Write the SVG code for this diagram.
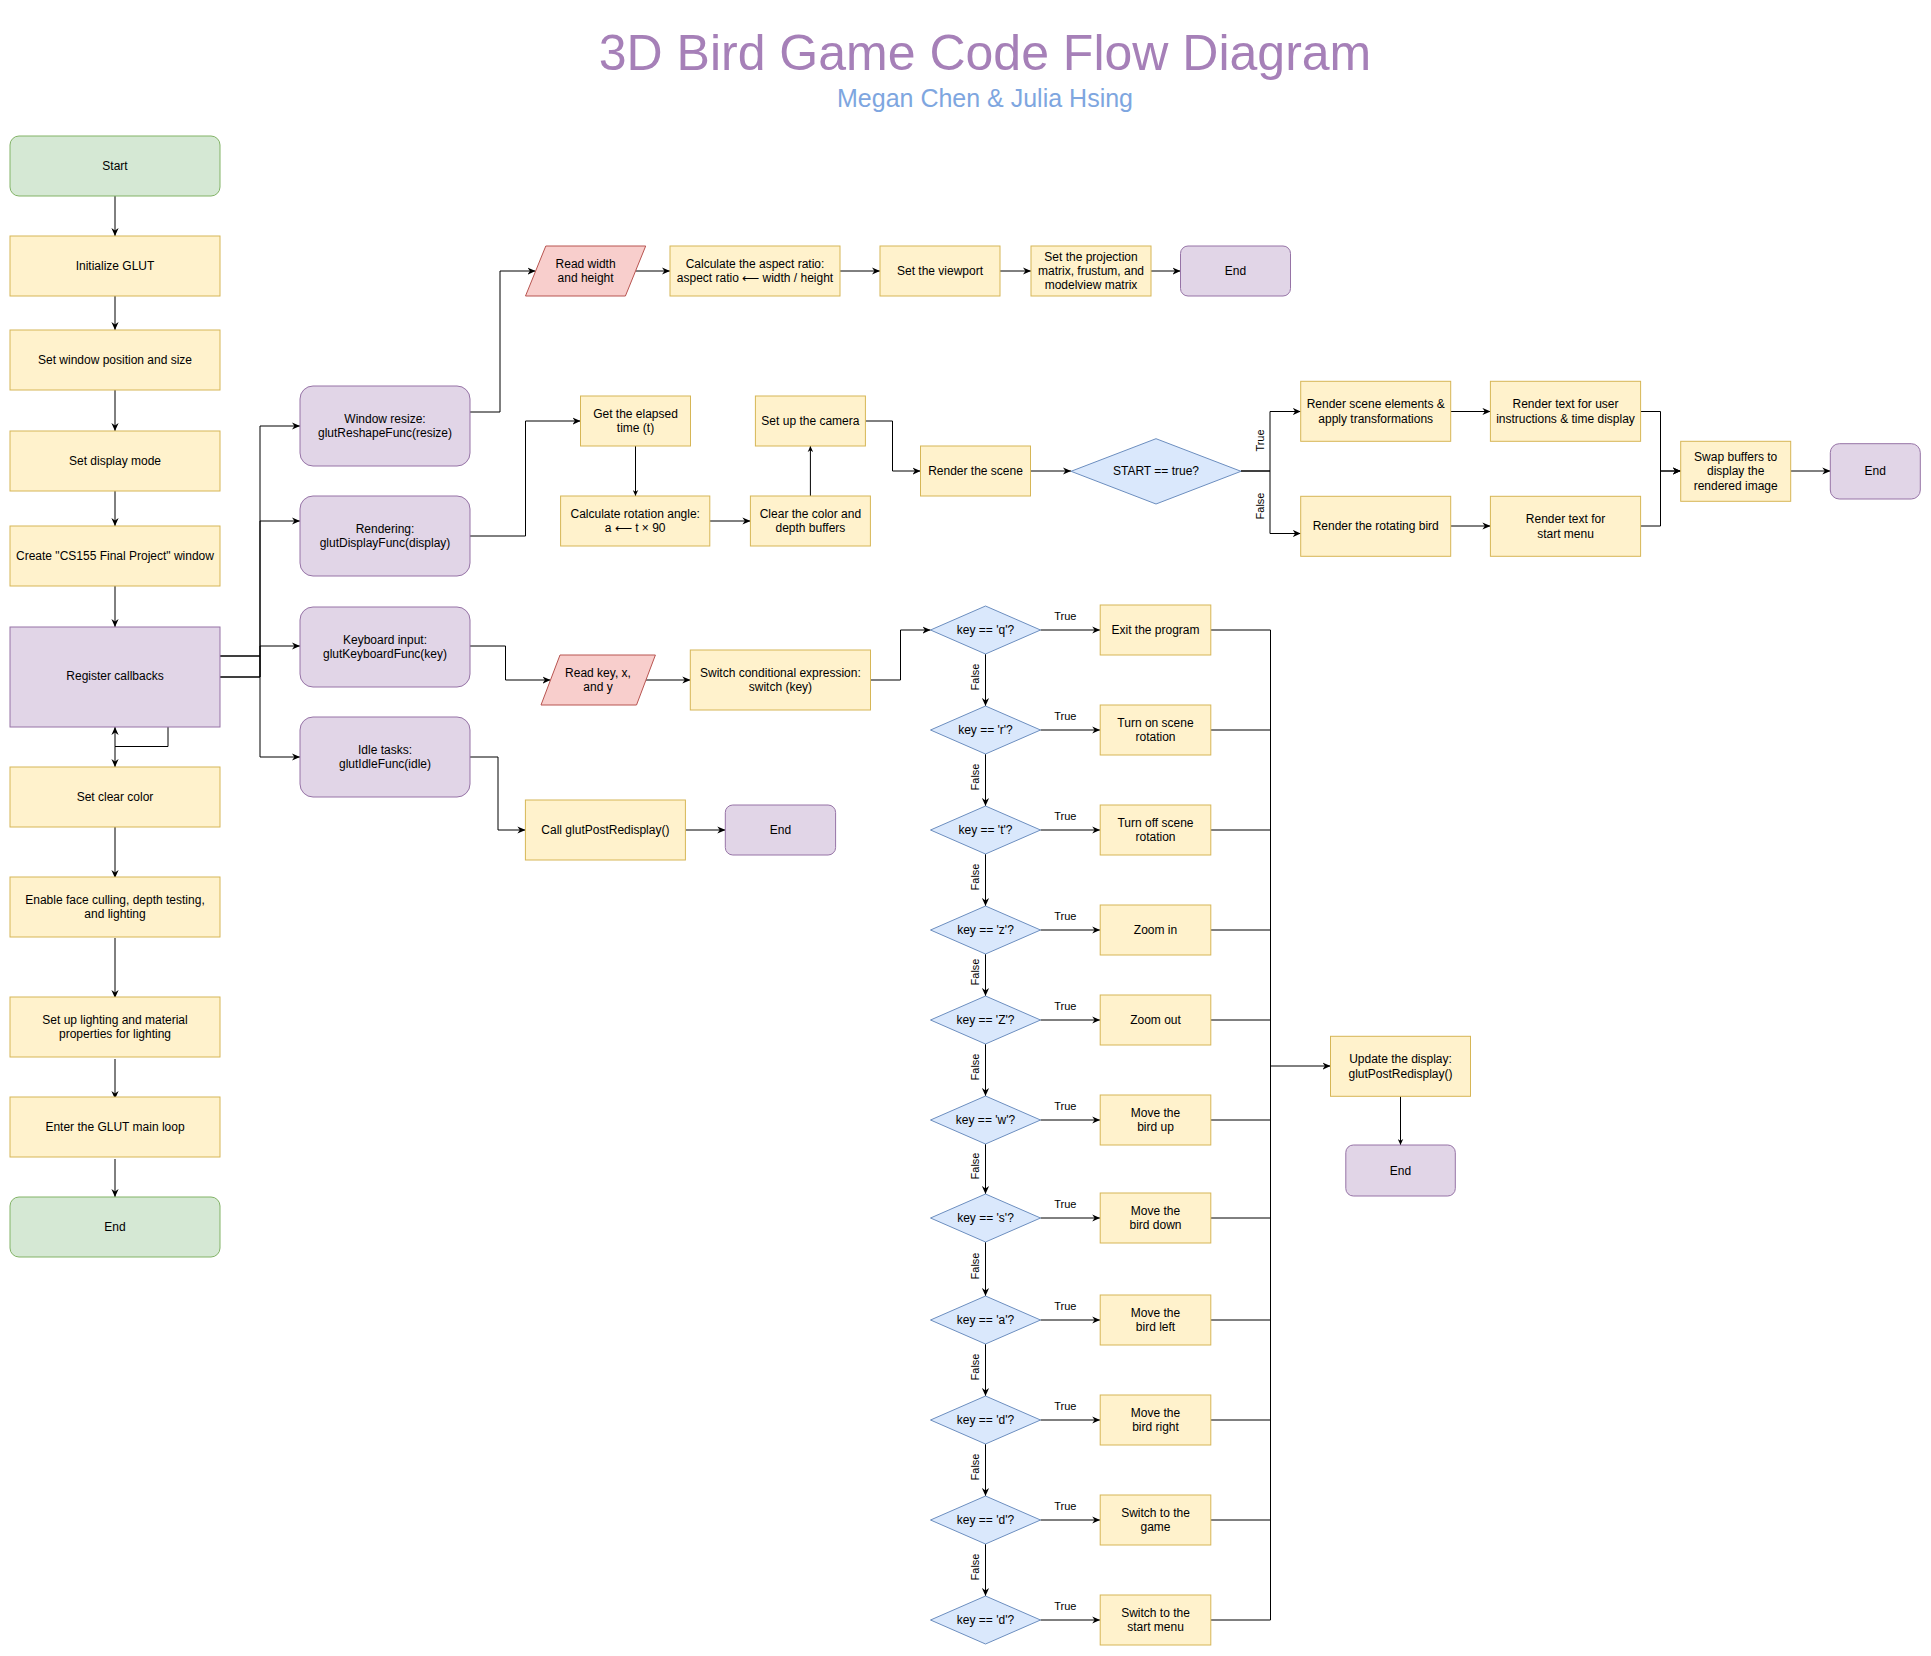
<svg xmlns="http://www.w3.org/2000/svg" width="1931" height="1656" viewBox="0 0 1931 1656">
<defs>
<style>
text{font-family:"Liberation Sans",Arial,Helvetica,sans-serif;font-size:12px;text-anchor:middle;fill:#000}
.g{fill:#d5e8d4;stroke:#82b366;stroke-width:1}
.y{fill:#fff2cc;stroke:#d6b656;stroke-width:1}
.p{fill:#e1d5e7;stroke:#9673a6;stroke-width:1}
.r{fill:#f8cecc;stroke:#b85450;stroke-width:1}
.b{fill:#dae8fc;stroke:#6c8ebf;stroke-width:1}
.e{fill:none;stroke:#000;stroke-width:1}
.ea{fill:none;stroke:#000;stroke-width:1;marker-end:url(#a)}
.es{fill:none;stroke:#000;stroke-width:1;marker-end:url(#s)}
.l{font-size:11px}
.title{font-size:50px;fill:#a680b8}
.sub{font-size:25px;fill:#7ea6e0}
</style>
<marker id="a" viewBox="0 0 10 10" refX="10" refY="5" markerWidth="8" markerHeight="8" markerUnits="userSpaceOnUse" orient="auto"><path d="M0,0.5 L10,5 L0,9.5 L3,5 z" fill="#000"/></marker>
<marker id="s" viewBox="0 0 10 10" refX="10" refY="5" markerWidth="6" markerHeight="6" markerUnits="userSpaceOnUse" orient="auto"><path d="M0,0.5 L10,5 L0,9.5 L3,5 z" fill="#000"/></marker>
</defs>
<rect x="0" y="0" width="1931" height="1656" fill="#fff"/>

<g id="title">
<text class="title" x="985" y="70">3D Bird Game Code Flow Diagram</text>
<text class="sub" x="985" y="107">Megan Chen &amp; Julia Hsing</text>
</g>

<g id="connectors">
<path class="ea" d="M115,196 V236"/>
<path class="ea" d="M115,296 V330"/>
<path class="ea" d="M115,390 V431"/>
<path class="ea" d="M115,491 V526"/>
<path class="ea" d="M115,586 V627"/>
<path class="ea" d="M168,727 V746.5 H115 V767"/>
<path class="ea" d="M115,746.5 V727"/>
<path class="ea" d="M115,827 V878"/>
<path class="ea" d="M115,938 V998"/>
<path class="ea" d="M115,1059 V1099"/>
<path class="ea" d="M115,1159 V1197"/>

<path class="ea" d="M220,677 H260 V426 H300"/>
<path class="ea" d="M220,677 H260 V521 H300"/>
<path class="ea" d="M220,656 H260 V646 H300"/>
<path class="ea" d="M220,656 H260 V757 H300"/>

<path class="ea" d="M470,412 H500 V271 H535.5"/>
<path class="ea" d="M635.5,271 H670"/>
<path class="ea" d="M840,271 H880"/>
<path class="ea" d="M1000,271 H1031"/>
<path class="ea" d="M1151,271 H1180.5"/>

<path class="ea" d="M470,536 H525.5 V421 H580.5"/>
<path class="es" d="M635.5,446 V496"/>
<path class="ea" d="M709.8,521 H750.4"/>
<path class="es" d="M810.4,496 V446"/>
<path class="ea" d="M865.4,421 H892.5 V471 H920.5"/>
<path class="ea" d="M1030.5,471 H1071"/>
<path class="ea" d="M1241,471 H1270 V411.5 H1300.7"/>
<path class="ea" d="M1241,471 H1270 V533.5 H1300.7"/>
<path class="ea" d="M1450.7,411.5 H1490.4"/>
<path class="ea" d="M1450.7,526 H1490.4"/>
<path class="ea" d="M1640.6,411.5 H1660.5 V471 H1680.7"/>
<path class="ea" d="M1640.6,526 H1660.5 V471 H1680.7"/>
<path class="ea" d="M1790.7,471 H1830.3"/>

<path class="ea" d="M470,646 H505.5 V680 H550.5"/>
<path class="ea" d="M646,680 H690.3"/>
<path class="ea" d="M870.5,680 H900.5 V630 H930.5"/>

<path class="ea" d="M470,757 H498 V830 H525.4"/>
<path class="ea" d="M685.4,830 H725.3"/>

<path class="ea" d="M1040.5,630 H1100.2"/>
<path class="ea" d="M1040.5,730 H1100.2"/>
<path class="ea" d="M1040.5,830 H1100.2"/>
<path class="ea" d="M1040.5,930 H1100.2"/>
<path class="ea" d="M1040.5,1020 H1100.2"/>
<path class="ea" d="M1040.5,1120 H1100.2"/>
<path class="ea" d="M1040.5,1218 H1100.2"/>
<path class="ea" d="M1040.5,1320 H1100.2"/>
<path class="ea" d="M1040.5,1420 H1100.2"/>
<path class="ea" d="M1040.5,1520 H1100.2"/>
<path class="ea" d="M1040.5,1620 H1100.2"/>

<path class="ea" d="M985.5,654 V706"/>
<path class="ea" d="M985.5,754 V806"/>
<path class="ea" d="M985.5,854 V906"/>
<path class="ea" d="M985.5,954 V996"/>
<path class="ea" d="M985.5,1044 V1096"/>
<path class="ea" d="M985.5,1144 V1194"/>
<path class="ea" d="M985.5,1242 V1296"/>
<path class="ea" d="M985.5,1344 V1396"/>
<path class="ea" d="M985.5,1444 V1496"/>
<path class="ea" d="M985.5,1544 V1596"/>

<path class="e" d="M1210.8,630 H1270.5 M1210.8,730 H1270.5 M1210.8,830 H1270.5 M1210.8,930 H1270.5 M1210.8,1020 H1270.5 M1210.8,1120 H1270.5 M1210.8,1218 H1270.5 M1210.8,1320 H1270.5 M1210.8,1420 H1270.5 M1210.8,1520 H1270.5 M1210.8,1620 H1270.5 M1270.5,630 V1620"/>
<path class="ea" d="M1270.5,1066 H1330.5"/>
<path class="es" d="M1400.5,1096.3 V1145"/>

<g class="labels">
<text class="l" x="1065.3" y="620">True</text>
<text class="l" x="1065.3" y="720">True</text>
<text class="l" x="1065.3" y="820">True</text>
<text class="l" x="1065.3" y="920">True</text>
<text class="l" x="1065.3" y="1010">True</text>
<text class="l" x="1065.3" y="1110">True</text>
<text class="l" x="1065.3" y="1208">True</text>
<text class="l" x="1065.3" y="1310">True</text>
<text class="l" x="1065.3" y="1410">True</text>
<text class="l" x="1065.3" y="1510">True</text>
<text class="l" x="1065.3" y="1610">True</text>
<text class="l" transform="translate(979,677) rotate(-90)">False</text>
<text class="l" transform="translate(979,777) rotate(-90)">False</text>
<text class="l" transform="translate(979,877) rotate(-90)">False</text>
<text class="l" transform="translate(979,972) rotate(-90)">False</text>
<text class="l" transform="translate(979,1067) rotate(-90)">False</text>
<text class="l" transform="translate(979,1166) rotate(-90)">False</text>
<text class="l" transform="translate(979,1266) rotate(-90)">False</text>
<text class="l" transform="translate(979,1367) rotate(-90)">False</text>
<text class="l" transform="translate(979,1467) rotate(-90)">False</text>
<text class="l" transform="translate(979,1567) rotate(-90)">False</text>
<text class="l" transform="translate(1263.5,440.5) rotate(-90)">True</text>
<text class="l" transform="translate(1263.5,506) rotate(-90)">False</text>
</g>
</g>

<g id="n-start"><rect class="g" x="10" y="136" width="210" height="60" rx="9"/><text x="115" y="170">Start</text></g>
<g id="n-init"><rect class="y" x="10" y="236" width="210" height="60"/><text x="115" y="270">Initialize GLUT</text></g>
<g id="n-winpos"><rect class="y" x="10" y="330" width="210" height="60"/><text x="115" y="364">Set window position and size</text></g>
<g id="n-dispmode"><rect class="y" x="10" y="431" width="210" height="60"/><text x="115" y="465">Set display mode</text></g>
<g id="n-create"><rect class="y" x="10" y="526" width="210" height="60"/><text x="115" y="560">Create "CS155 Final Project" window</text></g>
<g id="n-register"><rect class="p" x="10" y="627" width="210" height="100"/><text x="115" y="680">Register callbacks</text></g>
<g id="n-clear"><rect class="y" x="10" y="767" width="210" height="60"/><text x="115" y="801">Set clear color</text></g>
<g id="n-enable"><rect class="y" x="10" y="877" width="210" height="60"/><text x="115" y="903.8">Enable face culling, depth testing,<tspan x="115" dy="14.4">and lighting</tspan></text></g>
<g id="n-lighting"><rect class="y" x="10" y="997" width="210" height="60"/><text x="115" y="1023.8">Set up lighting and material<tspan x="115" dy="14.4">properties for lighting</tspan></text></g>
<g id="n-mainloop"><rect class="y" x="10" y="1097" width="210" height="60"/><text x="115" y="1131">Enter the GLUT main loop</text></g>
<g id="n-end"><rect class="g" x="10" y="1197" width="210" height="60" rx="9"/><text x="115" y="1231">End</text></g>

<g id="n-resize"><rect class="p" x="300" y="386" width="170" height="80" rx="13"/><text x="385" y="422.8">Window resize:<tspan x="385" dy="14.4">glutReshapeFunc(resize)</tspan></text></g>
<g id="n-render"><rect class="p" x="300" y="496" width="170" height="80" rx="13"/><text x="385" y="532.8">Rendering:<tspan x="385" dy="14.4">glutDisplayFunc(display)</tspan></text></g>
<g id="n-keyboard"><rect class="p" x="300" y="607" width="170" height="80" rx="13"/><text x="385" y="643.8">Keyboard input:<tspan x="385" dy="14.4">glutKeyboardFunc(key)</tspan></text></g>
<g id="n-idle"><rect class="p" x="300" y="717" width="170" height="80" rx="13"/><text x="385" y="753.8">Idle tasks:<tspan x="385" dy="14.4">glutIdleFunc(idle)</tspan></text></g>

<g id="n-readwh"><polygon class="r" points="545.8,246 645.7,246 625.4,296 525.5,296"/><text x="585.6" y="267.8">Read width<tspan x="585.6" dy="14.4">and height</tspan></text></g>
<g id="n-aspect"><rect class="y" x="670" y="246" width="170" height="50"/><text x="755" y="267.8">Calculate the aspect ratio:<tspan x="755" dy="14.4">aspect ratio ⟵ width / height</tspan></text></g>
<g id="n-viewport"><rect class="y" x="880" y="246" width="120" height="50"/><text x="940" y="275">Set the viewport</text></g>
<g id="n-projection"><rect class="y" x="1031" y="246" width="120" height="50"/><text x="1091" y="260.6">Set the projection<tspan x="1091" dy="14.4">matrix, frustum, and</tspan><tspan x="1091" dy="14.4">modelview matrix</tspan></text></g>
<g id="n-end1"><rect class="p" x="1180.5" y="246" width="110" height="50" rx="7.5"/><text x="1235.5" y="275">End</text></g>

<g id="n-elapsed"><rect class="y" x="580.5" y="396" width="110" height="50"/><text x="635.5" y="417.8">Get the elapsed<tspan x="635.5" dy="14.4">time (t)</tspan></text></g>
<g id="n-rotation"><rect class="y" x="560.6" y="496" width="149.2" height="50"/><text x="635.2" y="517.8">Calculate rotation angle:<tspan x="635.2" dy="14.4">a ⟵ t × 90</tspan></text></g>
<g id="n-clearbuf"><rect class="y" x="750.4" y="496" width="120" height="50"/><text x="810.4" y="517.8">Clear the color and<tspan x="810.4" dy="14.4">depth buffers</tspan></text></g>
<g id="n-camera"><rect class="y" x="755.4" y="396" width="110" height="50"/><text x="810.4" y="425">Set up the camera</text></g>
<g id="n-scene"><rect class="y" x="920.5" y="446" width="110" height="50"/><text x="975.5" y="475">Render the scene</text></g>
<g id="n-startq"><polygon class="b" points="1156,438.7 1241,471.3 1156,504 1071,471.3"/><text x="1156" y="475.3">START == true?</text></g>
<g id="n-sceneel"><rect class="y" x="1300.7" y="381.3" width="150" height="60"/><text x="1375.7" y="408.1">Render scene elements &amp;<tspan x="1375.7" dy="14.4">apply transformations</tspan></text></g>
<g id="n-usertext"><rect class="y" x="1490.4" y="381.3" width="150.2" height="60"/><text x="1565.5" y="408.1">Render text for user<tspan x="1565.5" dy="14.4">instructions &amp; time display</tspan></text></g>
<g id="n-bird"><rect class="y" x="1300.7" y="496.3" width="150" height="60"/><text x="1375.7" y="530.3">Render the rotating bird</text></g>
<g id="n-startmenu"><rect class="y" x="1490.4" y="496.3" width="150.2" height="60"/><text x="1565.5" y="523.1">Render text for<tspan x="1565.5" dy="14.4">start menu</tspan></text></g>
<g id="n-swap"><rect class="y" x="1680.7" y="441.3" width="110" height="60"/><text x="1735.7" y="460.9">Swap buffers to<tspan x="1735.7" dy="14.4">display the</tspan><tspan x="1735.7" dy="14.4">rendered image</tspan></text></g>
<g id="n-end2"><rect class="p" x="1830.3" y="443.7" width="90" height="55.3" rx="9"/><text x="1875.3" y="475.3">End</text></g>

<g id="n-readkey"><polygon class="r" points="560,655 655.4,655 636.5,705 541,705"/><text x="598" y="676.8">Read key, x,<tspan x="598" dy="14.4">and y</tspan></text></g>
<g id="n-switch"><rect class="y" x="690.3" y="650" width="180.2" height="60"/><text x="780.4" y="676.8">Switch conditional expression:<tspan x="780.4" dy="14.4">switch (key)</tspan></text></g>

<g id="n-call"><rect class="y" x="525.4" y="800" width="160" height="60"/><text x="605.4" y="834">Call glutPostRedisplay()</text></g>
<g id="n-end3"><rect class="p" x="725.3" y="805" width="110.3" height="50" rx="7.5"/><text x="780.5" y="834">End</text></g>

<g id="n-kq"><polygon class="b" points="985.5,606 1040.5,630 985.5,654 930.5,630"/><text x="985.5" y="634">key == 'q'?</text></g>
<g id="n-kr"><polygon class="b" points="985.5,706 1040.5,730 985.5,754 930.5,730"/><text x="985.5" y="734">key == 'r'?</text></g>
<g id="n-kt"><polygon class="b" points="985.5,806 1040.5,830 985.5,854 930.5,830"/><text x="985.5" y="834">key == 't'?</text></g>
<g id="n-kz"><polygon class="b" points="985.5,906 1040.5,930 985.5,954 930.5,930"/><text x="985.5" y="934">key == 'z'?</text></g>
<g id="n-kZ"><polygon class="b" points="985.5,996 1040.5,1020 985.5,1044 930.5,1020"/><text x="985.5" y="1024">key == 'Z'?</text></g>
<g id="n-kw"><polygon class="b" points="985.5,1096 1040.5,1120 985.5,1144 930.5,1120"/><text x="985.5" y="1124">key == 'w'?</text></g>
<g id="n-ks"><polygon class="b" points="985.5,1194 1040.5,1218 985.5,1242 930.5,1218"/><text x="985.5" y="1222">key == 's'?</text></g>
<g id="n-ka"><polygon class="b" points="985.5,1296 1040.5,1320 985.5,1344 930.5,1320"/><text x="985.5" y="1324">key == 'a'?</text></g>
<g id="n-kd1"><polygon class="b" points="985.5,1396 1040.5,1420 985.5,1444 930.5,1420"/><text x="985.5" y="1424">key == 'd'?</text></g>
<g id="n-kd2"><polygon class="b" points="985.5,1496 1040.5,1520 985.5,1544 930.5,1520"/><text x="985.5" y="1524">key == 'd'?</text></g>
<g id="n-kd3"><polygon class="b" points="985.5,1596 1040.5,1620 985.5,1644 930.5,1620"/><text x="985.5" y="1624">key == 'd'?</text></g>

<g id="n-exit"><rect class="y" x="1100.2" y="605" width="110.6" height="50"/><text x="1155.5" y="634">Exit the program</text></g>
<g id="n-roton"><rect class="y" x="1100.2" y="705" width="110.6" height="50"/><text x="1155.5" y="726.8">Turn on scene<tspan x="1155.5" dy="14.4">rotation</tspan></text></g>
<g id="n-rotoff"><rect class="y" x="1100.2" y="805" width="110.6" height="50"/><text x="1155.5" y="826.8">Turn off scene<tspan x="1155.5" dy="14.4">rotation</tspan></text></g>
<g id="n-zoomin"><rect class="y" x="1100.2" y="905" width="110.6" height="50"/><text x="1155.5" y="934">Zoom in</text></g>
<g id="n-zoomout"><rect class="y" x="1100.2" y="995" width="110.6" height="50"/><text x="1155.5" y="1024">Zoom out</text></g>
<g id="n-up"><rect class="y" x="1100.2" y="1095" width="110.6" height="50"/><text x="1155.5" y="1116.8">Move the<tspan x="1155.5" dy="14.4">bird up</tspan></text></g>
<g id="n-down"><rect class="y" x="1100.2" y="1193" width="110.6" height="50"/><text x="1155.5" y="1214.8">Move the<tspan x="1155.5" dy="14.4">bird down</tspan></text></g>
<g id="n-left"><rect class="y" x="1100.2" y="1295" width="110.6" height="50"/><text x="1155.5" y="1316.8">Move the<tspan x="1155.5" dy="14.4">bird left</tspan></text></g>
<g id="n-right"><rect class="y" x="1100.2" y="1395" width="110.6" height="50"/><text x="1155.5" y="1416.8">Move the<tspan x="1155.5" dy="14.4">bird right</tspan></text></g>
<g id="n-game"><rect class="y" x="1100.2" y="1495" width="110.6" height="50"/><text x="1155.5" y="1516.8">Switch to the<tspan x="1155.5" dy="14.4">game</tspan></text></g>
<g id="n-menu"><rect class="y" x="1100.2" y="1595" width="110.6" height="50"/><text x="1155.5" y="1616.8">Switch to the<tspan x="1155.5" dy="14.4">start menu</tspan></text></g>

<g id="n-update"><rect class="y" x="1330.5" y="1036.3" width="140" height="60"/><text x="1400.5" y="1063.1">Update the display:<tspan x="1400.5" dy="14.4">glutPostRedisplay()</tspan></text></g>
<g id="n-end4"><rect class="p" x="1345.8" y="1145" width="109.5" height="51" rx="7.5"/><text x="1400.5" y="1174.5">End</text></g>
</svg>
